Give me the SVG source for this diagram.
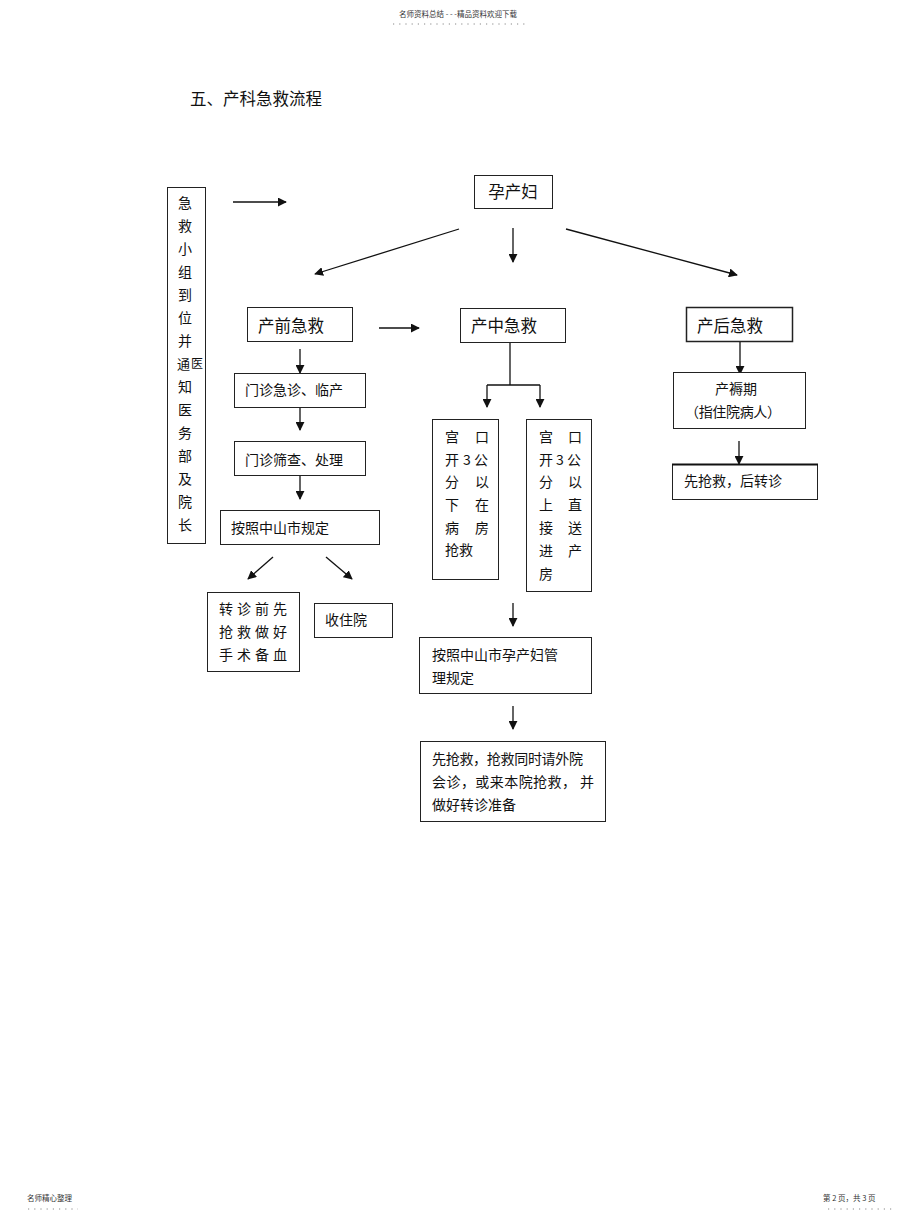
<svg xmlns="http://www.w3.org/2000/svg" width="920" height="1221" viewBox="0 0 920 1221">
<style>
text{font-family:"Noto Sans CJK SC","Noto Sans",sans-serif;fill:#111}
.b{fill:#fff;stroke:#222;stroke-width:1}
.t14{font-size:14px}
.t16{font-size:16.5px}
.s{font-size:7.5px;fill:#333}
.c{stroke:#111;stroke-width:1.3;fill:none}
.dot{stroke:#888;stroke-width:1;stroke-dasharray:1.2 5}
</style>
<defs>
<marker id="ah2" viewBox="0 0 10 10" refX="9" refY="5" markerWidth="9" markerHeight="9" markerUnits="userSpaceOnUse" orient="auto">
<path d="M0,0 L10,5 L0,10 z" fill="#111"/>
</marker>
</defs>
<rect width="920" height="1221" fill="#fff"/>

<g id="header">
<text class="s" x="458" y="17" text-anchor="middle">名师资料总结 - - -精品资料欢迎下载</text>
<line class="dot" x1="393" y1="24" x2="527" y2="24"/>
</g>
<g id="footer">
<text class="s" x="27" y="1201">名师精心整理</text>
<line class="dot" x1="28" y1="1209" x2="78" y2="1209"/>
<text class="s" x="823" y="1201">第 2 页，共 3 页</text>
<line class="dot" x1="828" y1="1209" x2="892" y2="1209"/>
</g>

<text id="title" class="t16" x="190" y="105">五、产科急救流程</text>

<g id="connectors">
<line class="c" x1="233" y1="202" x2="286" y2="202" marker-end="url(#ah2)"/>
<line class="c" x1="459" y1="229" x2="315" y2="274" marker-end="url(#ah2)"/>
<line class="c" x1="513" y1="228" x2="513" y2="262" marker-end="url(#ah2)"/>
<line class="c" x1="566" y1="229" x2="737" y2="275" marker-end="url(#ah2)"/>
<line class="c" x1="379" y1="328" x2="419" y2="328" marker-end="url(#ah2)"/>
<line class="c" x1="300" y1="349" x2="300" y2="373" marker-end="url(#ah2)"/>
<line class="c" x1="300" y1="407" x2="300" y2="430" marker-end="url(#ah2)"/>
<line class="c" x1="300" y1="476" x2="300" y2="499" marker-end="url(#ah2)"/>
<line class="c" x1="273" y1="557" x2="248" y2="579" marker-end="url(#ah2)"/>
<line class="c" x1="326" y1="557" x2="352" y2="579" marker-end="url(#ah2)"/>
<line class="c" x1="510" y1="343" x2="510" y2="385"/>
<line class="c" x1="487" y1="385" x2="540" y2="385"/>
<line class="c" x1="487" y1="385" x2="487" y2="407" marker-end="url(#ah2)"/>
<line class="c" x1="540" y1="385" x2="540" y2="407" marker-end="url(#ah2)"/>
<line class="c" x1="513" y1="603" x2="513" y2="626" marker-end="url(#ah2)"/>
<line class="c" x1="513" y1="706" x2="513" y2="729" marker-end="url(#ah2)"/>
<line class="c" x1="740" y1="342" x2="740" y2="374" marker-end="url(#ah2)"/>
<line class="c" x1="739" y1="441" x2="739" y2="464" marker-end="url(#ah2)"/>
</g>

<g id="team">
<rect class="b" x="167.5" y="187.5" width="38" height="356"/>
<g class="t14">
<text x="178" y="208">急</text>
<text x="178" y="231">救</text>
<text x="178" y="254">小</text>
<text x="178" y="277">组</text>
<text x="178" y="300">到</text>
<text x="178" y="323">位</text>
<text x="178" y="346">并</text>
<text x="177" y="369" font-size="13">通</text>
<text x="191" y="368" font-size="12">医</text>
<text x="178" y="392">知</text>
<text x="178" y="415">医</text>
<text x="178" y="438">务</text>
<text x="178" y="461">部</text>
<text x="178" y="484">及</text>
<text x="178" y="507">院</text>
<text x="178" y="530">长</text>
</g>
</g>

<g id="pregnant">
<rect class="b" x="474.5" y="175.5" width="78" height="33"/>
<text class="t16" x="513" y="198" text-anchor="middle">孕产妇</text>
</g>

<g id="prenatal">
<rect class="b" x="247.5" y="307.5" width="105" height="34"/>
<text class="t16" x="258" y="332">产前急救</text>
</g>
<g id="intrapartum">
<rect class="b" x="460.5" y="308.5" width="105" height="34"/>
<text class="t16" x="471" y="332">产中急救</text>
</g>
<g id="postpartum">
<rect class="b" x="686.5" y="307.5" width="106" height="34" style="stroke-width:1.5"/>
<text class="t16" x="697" y="332">产后急救</text>
</g>

<g id="outpatient">
<rect class="b" x="234.5" y="373.5" width="131" height="34"/>
<text class="t14" x="245" y="395">门诊急诊、临产</text>
</g>
<g id="screening">
<rect class="b" x="234.5" y="441.5" width="131" height="34"/>
<text class="t14" x="245" y="465">门诊筛查、处理</text>
</g>
<g id="zs-rule">
<rect class="b" x="220.5" y="510.5" width="159" height="34"/>
<text class="t14" x="231" y="533">按照中山市规定</text>
</g>
<g id="transfer">
<rect class="b" x="207.5" y="592.5" width="92" height="79"/>
<g class="t14">
<text x="219" y="614">转</text><text x="237" y="614">诊</text><text x="255" y="614">前</text><text x="273" y="614">先</text>
<text x="219" y="637">抢</text><text x="237" y="637">救</text><text x="255" y="637">做</text><text x="273" y="637">好</text>
<text x="219" y="660">手</text><text x="237" y="660">术</text><text x="255" y="660">备</text><text x="273" y="660">血</text>
</g>
</g>
<g id="admit">
<rect class="b" x="314.5" y="603.5" width="78" height="34"/>
<text class="t14" x="325" y="625">收住院</text>
</g>

<g id="cervix-lt3">
<rect class="b" x="432.5" y="419.5" width="66" height="160"/>
<g class="t14">
<text x="445" y="442">宫</text><text x="475" y="442">口</text>
<text x="445" y="465">开</text><text x="463" y="465">3</text><text x="474" y="465">公</text>
<text x="445" y="487">分</text><text x="475" y="487">以</text>
<text x="445" y="510">下</text><text x="475" y="510">在</text>
<text x="445" y="533">病</text><text x="475" y="533">房</text>
<text x="445" y="555">抢救</text>
</g>
</g>
<g id="cervix-gt3">
<rect class="b" x="526.5" y="419.5" width="65" height="172"/>
<g class="t14">
<text x="539" y="442">宫</text><text x="568" y="442">口</text>
<text x="539" y="465">开</text><text x="556" y="465">3</text><text x="567" y="465">公</text>
<text x="539" y="487">分</text><text x="568" y="487">以</text>
<text x="539" y="510">上</text><text x="568" y="510">直</text>
<text x="539" y="533">接</text><text x="568" y="533">送</text>
<text x="539" y="556">进</text><text x="568" y="556">产</text>
<text x="539" y="579">房</text>
</g>
</g>
<g id="zs-maternal">
<rect class="b" x="419.5" y="637.5" width="172" height="56"/>
<text class="t14" x="432" y="660">按照中山市孕产妇管</text>
<text class="t14" x="432" y="683">理规定</text>
</g>
<g id="consult">
<rect class="b" x="420.5" y="741.5" width="185" height="80"/>
<text class="t14" x="432" y="764" textLength="151" lengthAdjust="spacing">先抢救，抢救同时请外院</text>
<text class="t14" x="432" y="787" textLength="162" lengthAdjust="spacing">会诊，或来本院抢救， 并</text>
<text class="t14" x="432" y="810">做好转诊准备</text>
</g>

<g id="puerperium">
<rect class="b" x="673.5" y="372.5" width="132" height="56"/>
<text class="t14" x="736" y="394" text-anchor="middle">产褥期</text>
<text class="t14" x="685" y="417" textLength="96" lengthAdjust="spacing">（指住院病人）</text>
</g>
<g id="rescue-first">
<rect class="b" x="672.5" y="464.5" width="145" height="35"/>
<line x1="672" y1="464.5" x2="818" y2="464.5" stroke="#111" stroke-width="2"/>
<text class="t14" x="684" y="486">先抢救，后转诊</text>
</g>
</svg>
